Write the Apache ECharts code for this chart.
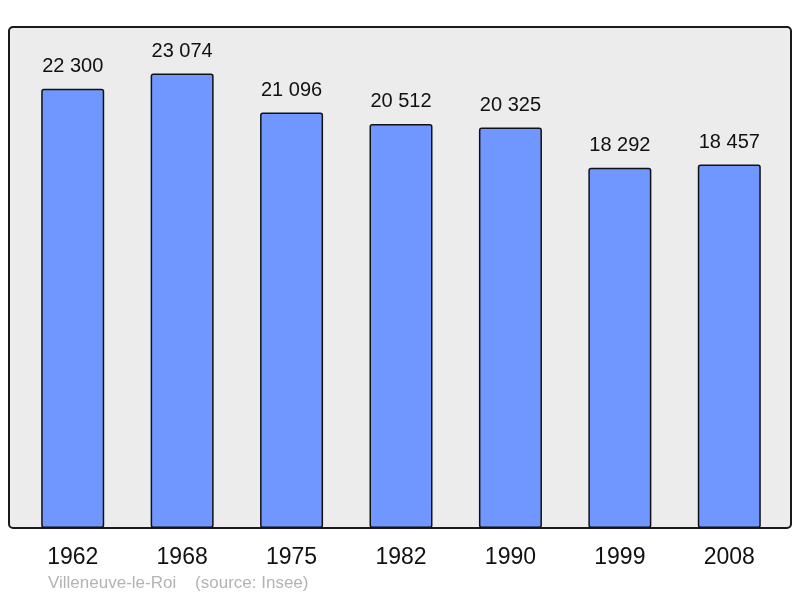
<!DOCTYPE html>
<html>
<head>
<meta charset="utf-8">
<script src="https://cdn.jsdelivr.net/npm/echarts@6/dist/echarts.min.js"></script>
<style>
  html, body { margin: 0; padding: 0; background: #fff; }
  #chart { width: 800px; height: 598px; }
</style>
</head>
<body>
<div id="chart"></div>
<script>
const years = ['1962', '1968', '1975', '1982', '1990', '1999', '2008'];
const population = [22300, 23074, 21096, 20512, 20325, 18292, 18457];
const caption = 'Villeneuve-le-Roi    (source: Insee)';

const fmt = v => String(v).replace(/\B(?=(\d{3})+(?!\d))/g, ' ');

const chart = echarts.init(document.getElementById('chart'));
chart.setOption({
    animation: false,
    graphic: [
        {
            type: 'rect',
            z: -10,
            shape: { x: 9, y: 27, width: 782, height: 501, r: 4 },
            style: { fill: '#ececec', stroke: '#1a1a1a', lineWidth: 2 }
        },
        {
            type: 'text',
            left: 48,
            top: 575,
            style: {
                text: caption,
                fill: '#b3b3b3',
                font: '17px "Liberation Sans", Arial, sans-serif'
            }
        }
    ],
    grid: { left: 18, right: 16, top: 35.5, bottom: 70 },
    xAxis: {
        type: 'category',
        data: years,
        axisLine: { show: false },
        axisTick: { show: false },
        axisLabel: {
            color: '#111',
            fontSize: 23,
            fontFamily: '"Liberation Sans", Arial, sans-serif',
            margin: 18
        }
    },
    yAxis: {
        type: 'value',
        min: 0,
        max: 25000,
        show: false,
        splitLine: { show: false }
    },
    series: [{
        type: 'bar',
        data: population,
        barWidth: 63,
        itemStyle: {
            color: '#7097ff',
            borderColor: '#111',
            borderWidth: 1.5,
            borderRadius: 2
        },
        label: {
            show: true,
            position: 'top',
            distance: 12,
            color: '#111',
            fontSize: 20,
            fontFamily: '"Liberation Sans", Arial, sans-serif',
            formatter: p => fmt(p.value)
        }
    }]
});
</script>
</body>
</html>
